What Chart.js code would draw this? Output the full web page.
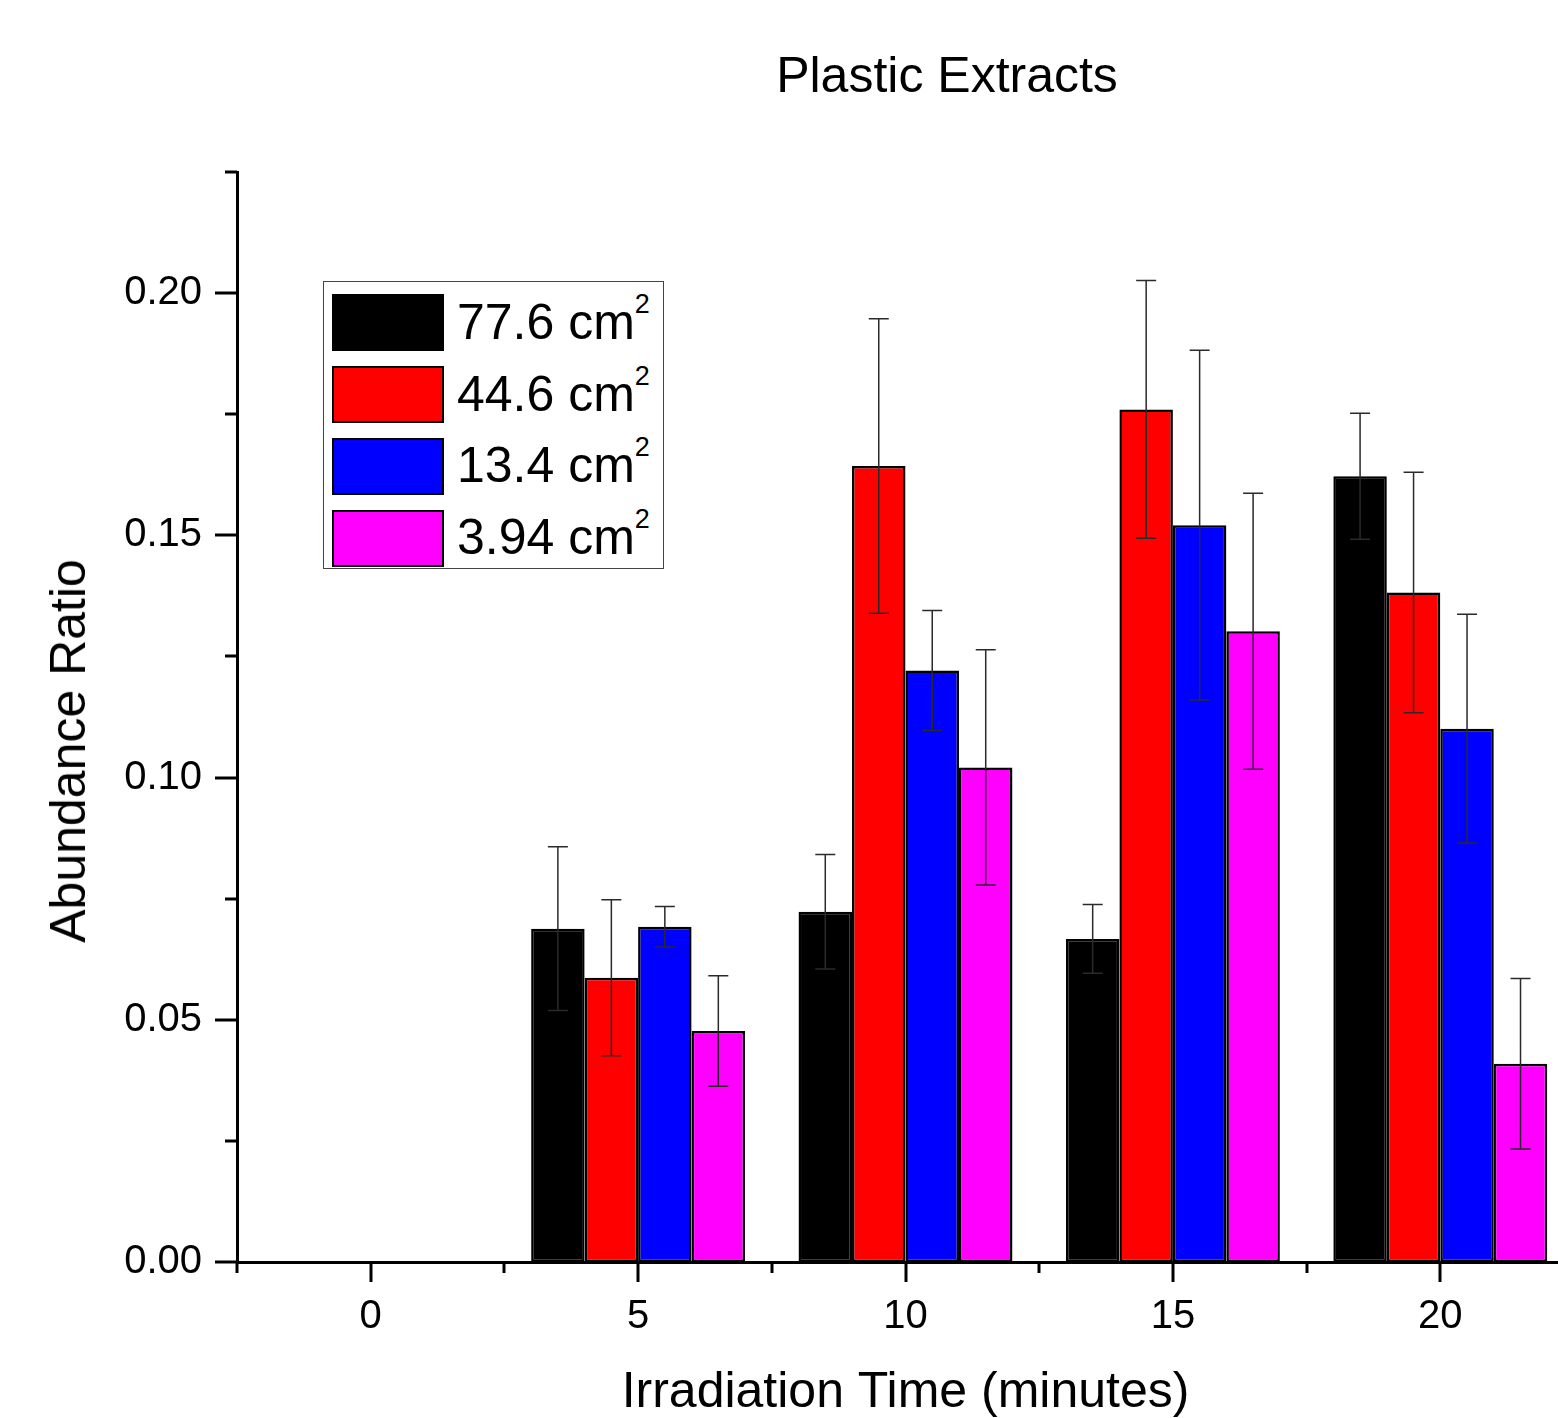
<!DOCTYPE html>
<html><head><meta charset="utf-8">
<script src="https://cdn.jsdelivr.net/npm/chart.js@4.4.1/dist/chart.umd.min.js"></script>
<style>
html,body{margin:0;padding:0;background:#fff;overflow:hidden;}
#wrap{position:relative;width:1574px;height:1418px;font-family:"Liberation Sans",Arial,sans-serif;color:#000;}
#c{position:absolute;left:0;top:0;}
.t{position:absolute;white-space:nowrap;font-size:50px;line-height:50px;}
#title{left:947px;top:50px;transform:translateX(-50%);}
#ytitle{left:68px;top:751px;transform:translate(-50%,-50%) rotate(-90deg);}
#legend{position:absolute;left:323px;top:281px;width:341px;height:288px;box-sizing:border-box;border:1px solid #444;background:#fff;}
.sw{position:absolute;left:8px;width:112px;height:57px;box-sizing:border-box;border:2px solid #000;}
.lt{position:absolute;left:133px;font-size:50px;line-height:50px;white-space:nowrap;}
.lt sup{font-size:27px;vertical-align:26px;line-height:0;}
</style>
</head><body>
<div id="wrap">
  <canvas id="c" width="1574" height="1418"></canvas>
  <div id="title" class="t">Plastic Extracts</div>
  <div id="ytitle" class="t">Abundance Ratio</div>
  <div id="legend"></div>
</div>
<script>
// ---- data ----
const times = [0, 5, 10, 15, 20];
const seriesAreas = ['77.6', '44.6', '13.4', '3.94'];
const seriesUnit = 'cm';
const seriesColors = ['#000000', '#FF0000', '#0000FF', '#FF00FF'];
const area776 = [null, 0.0688, 0.0723, 0.0667, 0.1622];
const area446 = [null, 0.0587, 0.1643, 0.1760, 0.1382];
const area134 = [null, 0.0692, 0.1221, 0.1521, 0.1101];
const area394 = [null, 0.0477, 0.1021, 0.1302, 0.0409];
const err776 = [null, 0.0169, 0.0118, 0.0071, 0.0130];
const err446 = [null, 0.0161, 0.0304, 0.0266, 0.0248];
const err134 = [null, 0.0042, 0.0124, 0.0361, 0.0236];
const err394 = [null, 0.0114, 0.0243, 0.0285, 0.0176];
const xTickValues = [0, 5, 10, 15, 20];
const xTickLabels = ['0', '5', '10', '15', '20'];
const xMinorTicks = [-2.5, 2.5, 7.5, 12.5, 17.5, 22.5];
const yTickValues = [0, 0.05, 0.10, 0.15, 0.20];
const yTickLabels = ['0.00', '0.05', '0.10', '0.15', '0.20'];
const yMinorTicks = [0.025, 0.075, 0.125, 0.175, 0.225];

const seriesValues = [area776, area446, area134, area394];
const seriesErrors = [err776, err446, err134, err394];

// ---- legend (HTML, with superscript) ----
const leg = document.getElementById('legend');
seriesAreas.forEach((a, i) => {
  const sw = document.createElement('div');
  sw.className = 'sw';
  sw.style.top = (12 + i * 72) + 'px';
  sw.style.background = seriesColors[i];
  leg.appendChild(sw);
  const t = document.createElement('div');
  t.className = 'lt';
  t.style.top = (15 + i * 71.7) + 'px';
  t.innerHTML = a + ' ' + seriesUnit + '<sup>2</sup>';
  leg.appendChild(t);
});

const FONT = '"Liberation Sans", Arial, sans-serif';

const errPlugin = {
  id: 'errbars',
  afterDatasetsDraw(chart) {
    const ctx = chart.ctx, y = chart.scales.y;
    ctx.save();
    ctx.strokeStyle = '#2a2a2a';
    ctx.lineWidth = 1.5;
    chart.data.datasets.forEach((ds, i) => {
      const meta = chart.getDatasetMeta(i);
      meta.data.forEach((bar, j) => {
        const v = seriesValues[i][j], e = seriesErrors[i][j];
        if (v == null || !e) return;
        const x = bar.x;
        const yt = y.getPixelForValue(v + e), yb = y.getPixelForValue(v - e);
        ctx.beginPath();
        ctx.moveTo(x, yt); ctx.lineTo(x, yb);
        ctx.moveTo(x - 10, yt); ctx.lineTo(x + 10, yt);
        ctx.moveTo(x - 10, yb); ctx.lineTo(x + 10, yb);
        ctx.stroke();
      });
    });
    ctx.restore();
  }
};

const tickPlugin = {
  id: 'tickmarks',
  afterDraw(chart) {
    const ctx = chart.ctx, x = chart.scales.x, y = chart.scales.y;
    ctx.save();
    ctx.strokeStyle = '#000';
    ctx.lineWidth = 3;
    const line = (x1, y1, x2, y2) => { ctx.beginPath(); ctx.moveTo(x1, y1); ctx.lineTo(x2, y2); ctx.stroke(); };
    const yb = x.top;
    xTickValues.forEach(v => { const p = Math.round(x.getPixelForValue(v)); line(p, yb, p, yb + 20); });
    xMinorTicks.forEach(v => { const p = Math.round(x.getPixelForValue(v)); line(p, yb, p, yb + 11); });
    const xl = y.right;
    yTickValues.forEach(v => { const p = Math.round(y.getPixelForValue(v)); line(xl, p, xl - 22, p); });
    yMinorTicks.forEach(v => { const p = Math.round(y.getPixelForValue(v)); line(xl, p, xl - 12, p); });
    ctx.restore();
  }
};

const datasets = seriesAreas.map((a, i) => ({
  label: a + ' cm²',
  data: times.map((t, j) => ({ x: t, y: seriesValues[i][j] })),
  backgroundColor: seriesColors[i],
  borderColor: '#000',
  borderWidth: 2.5,
  borderSkipped: false,
  barPercentage: 1.0,
  categoryPercentage: 0.8
}));

new Chart(document.getElementById('c'), {
  type: 'bar',
  data: { datasets },
  options: {
    responsive: false,
    animation: false,
    devicePixelRatio: 1,
    layout: { padding: { top: 172, left: 0, right: 0, bottom: 0 } },
    plugins: { legend: { display: false }, tooltip: { enabled: false }, title: { display: false } },
    scales: {
      x: {
        type: 'linear',
        min: -2.5, max: 22.5,
        offset: false,
        grid: { display: false },
        border: { display: true, color: '#000', width: 3 },
        afterBuildTicks: s => { s.ticks = xTickValues.map(v => ({ value: v })); },
        afterFit: s => { s.height = 156; },
        ticks: {
          color: '#000',
          font: { family: FONT, size: 40 },
          padding: 23,
          maxRotation: 0,
          autoSkip: false,
          callback: (v) => { const k = xTickValues.indexOf(v); return k >= 0 ? xTickLabels[k] : ''; }
        },
        title: {
          display: true,
          text: 'Irradiation Time (minutes)',
          color: '#000',
          font: { family: FONT, size: 50, lineHeight: 1 },
          padding: { top: 0, bottom: 0 }
        }
      },
      y: {
        type: 'linear',
        min: 0, max: 0.225,
        grid: { display: false },
        border: { display: true, color: '#000', width: 3 },
        afterBuildTicks: s => { s.ticks = yTickValues.map(v => ({ value: v })); },
        afterFit: s => { s.width = 237; },
        ticks: {
          color: '#000',
          font: { family: FONT, size: 40 },
          padding: 27,
          autoSkip: false,
          callback: (v) => { const k = yTickValues.findIndex(t => Math.abs(t - v) < 1e-9); return k >= 0 ? yTickLabels[k] : ''; }
        }
      }
    }
  },
  plugins: [errPlugin, tickPlugin]
});
</script>
</body></html>
